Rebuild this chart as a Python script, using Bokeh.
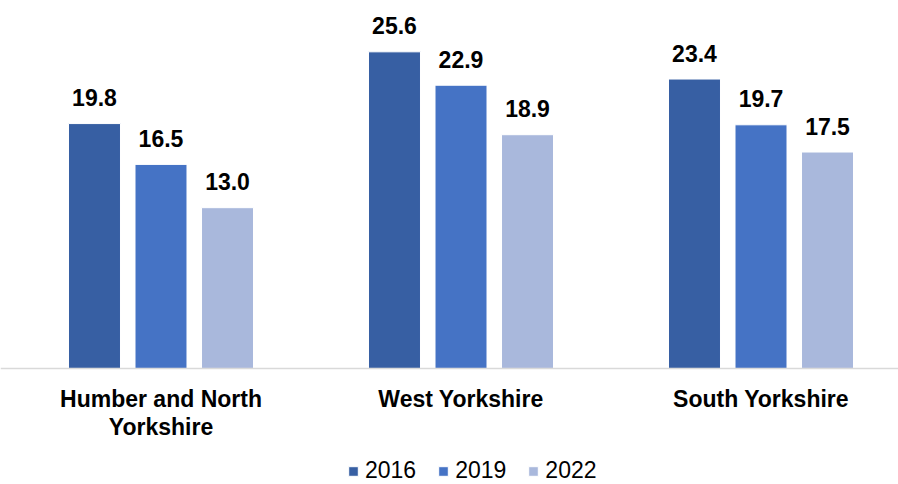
from bokeh.plotting import figure
from bokeh.models import ColumnDataSource, Range1d, Legend, LegendItem, Span
from bokeh.core.properties import value
from bokeh.embed import file_html
from bokeh.resources import INLINE

categories = ["Humber and North\nYorkshire", "West Yorkshire", "South Yorkshire"]
years = ["2016", "2019", "2022"]
values_2016 = [19.8, 25.6, 23.4]
values_2019 = [16.5, 22.9, 19.7]
values_2022 = [13.0, 18.9, 17.5]
colors = ["#375FA3", "#4573C5", "#A9B8DC"]

series = [values_2016, values_2019, values_2022]
offsets = [-0.2217, 0.0, 0.2217]
bar_w = 0.1733
FONT = "Liberation Sans"

p = figure(width=898, height=484,
           x_range=Range1d(-0.035, 2.9583), y_range=Range1d(-9.38, 29.75),
           output_backend="svg", toolbar_location=None,
           x_axis_location=None, y_axis_location=None,
           min_border_left=0, min_border_right=0, min_border_top=0,
           min_border_bottom=0)
p.outline_line_color = None
p.grid.visible = False
p.background_fill_color = "white"

items = []
for k, (yr, vals, col) in enumerate(zip(years, series, colors)):
    xs = [i + 0.5 + offsets[k] for i in range(len(categories))]
    src = ColumnDataSource(dict(x=xs, top=vals, lbl=[f"{v:.1f}" for v in vals]))
    r = p.vbar(x="x", top="top", bottom=0, width=bar_w, source=src,
               fill_color=col, line_color="white", line_width=1)
    p.text(x="x", y="top", text="lbl", source=src, y_offset=-26,
           text_align="center", text_baseline="alphabetic",
           text_font=value(FONT), text_font_style="bold",
           text_font_size="23px", text_color="black")
    items.append(LegendItem(label=yr, renderers=[r]))

# baseline (category axis line)
p.add_layout(Span(location=0, dimension="width", line_color="#D9D9D9",
                  line_width=1.5))

# category labels
cat_src = ColumnDataSource(dict(x=[i + 0.5 for i in range(len(categories))],
                                y=[0] * len(categories), t=categories))
p.text(x="x", y="y", text="t", source=cat_src, y_offset=18,
       text_align="center", text_baseline="top", text_line_height=1.05,
       text_font=value(FONT), text_font_style="bold",
       text_font_size="23px", text_color="black")

legend = Legend(items=items, orientation="horizontal", location=(347, 0),
                glyph_width=12, glyph_height=12, label_standoff=6, spacing=21,
                padding=0, margin=0, border_line_color=None,
                background_fill_alpha=0,
                label_text_font=FONT, label_text_font_size="23px",
                label_text_color="black")
p.add_layout(legend, "center")

open("out.html", "w").write(file_html(p, INLINE))
